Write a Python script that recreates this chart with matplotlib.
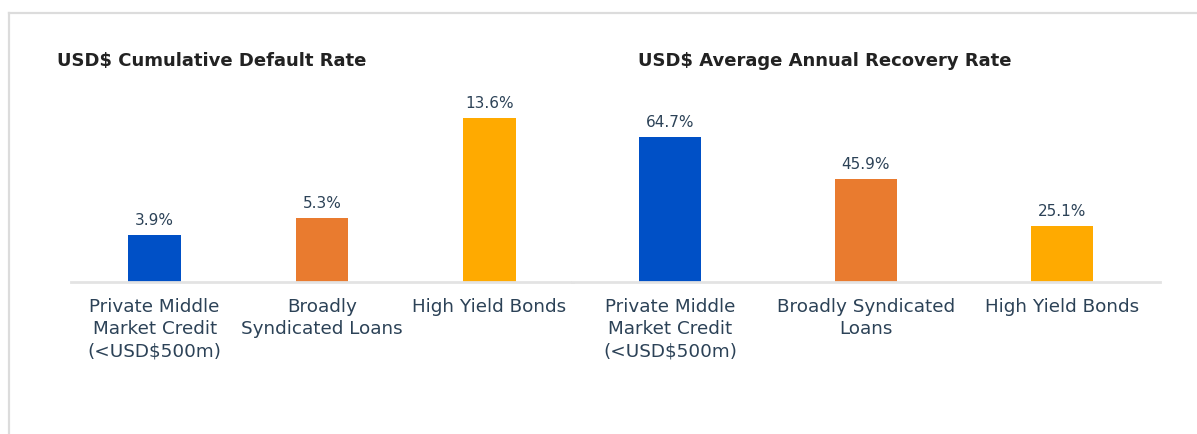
import matplotlib
matplotlib.use("Agg")
import matplotlib.pyplot as plt
from matplotlib.lines import Line2D

# Data
default_categories = ["Private Middle\nMarket Credit\n(<USD$500m)",
                      "Broadly\nSyndicated Loans",
                      "High Yield Bonds"]
default_rates = [3.9, 5.3, 13.6]

recovery_categories = ["Private Middle\nMarket Credit\n(<USD$500m)",
                       "Broadly Syndicated\nLoans",
                       "High Yield Bonds"]
recovery_rates = [64.7, 45.9, 25.1]

bar_colors = ["#0050C6", "#E97B2F", "#FFAA00"]
text_color = "#2C4257"
title_color = "#222222"
base_color = "#E3E3E3"

W, H = 1197, 435
fig = plt.figure(figsize=(W / 100, H / 100), dpi=100)
fig.patch.set_facecolor("white")

# Thin frame along the top and left edge
fig.add_artist(Line2D([9 / W, 9 / W], [0, 1 - 14 / H], transform=fig.transFigure,
                      color="#DCDCDC", lw=1.6))
fig.add_artist(Line2D([9 / W, 1], [1 - 14 / H, 1 - 14 / H], transform=fig.transFigure,
                      color="#DCDCDC", lw=1.6))

bottom = (H - 283) / H
height = 193 / H


def draw_panel(left_px, right_px, cats, vals, ytop):
    ax = fig.add_axes([left_px / W, bottom, (right_px - left_px) / W, height])
    x = range(len(vals))
    bars = ax.bar(x, vals, width=0.316, color=bar_colors, zorder=2)
    ax.set_xlim(-0.5, len(vals) - 0.5)
    ax.set_ylim(0, ytop)
    for b, v in zip(bars, vals):
        ax.annotate(f"{v:.1f}%", (b.get_x() + b.get_width() / 2, v),
                    xytext=(0, 11), textcoords="offset points",
                    ha="center", va="center", fontsize=11,
                    color=text_color, family="DejaVu Sans")
    ax.set_xticks(list(x))
    ax.set_xticklabels(cats, fontsize=13.2, color=text_color,
                       family="DejaVu Sans", linespacing=1.3)
    ax.tick_params(axis="x", length=0, pad=11)
    ax.set_yticks([])
    for s in ["top", "left", "right"]:
        ax.spines[s].set_visible(False)
    ax.spines["bottom"].set_color(base_color)
    ax.spines["bottom"].set_linewidth(2)
    return ax


draw_panel(71, 573, default_categories, default_rates, 16.0)
draw_panel(572, 1160, recovery_categories, recovery_rates, 86.1)

fig.text(57 / W, 1 - 66 / H, "USD$ Cumulative Default Rate", fontsize=13,
         fontweight="bold", family="DejaVu Sans", color=title_color, va="baseline")
fig.text(638 / W, 1 - 66 / H, "USD$ Average Annual Recovery Rate", fontsize=13,
         fontweight="bold", family="DejaVu Sans", color=title_color, va="baseline")

fig.savefig("out.png", dpi=100, facecolor="white")
